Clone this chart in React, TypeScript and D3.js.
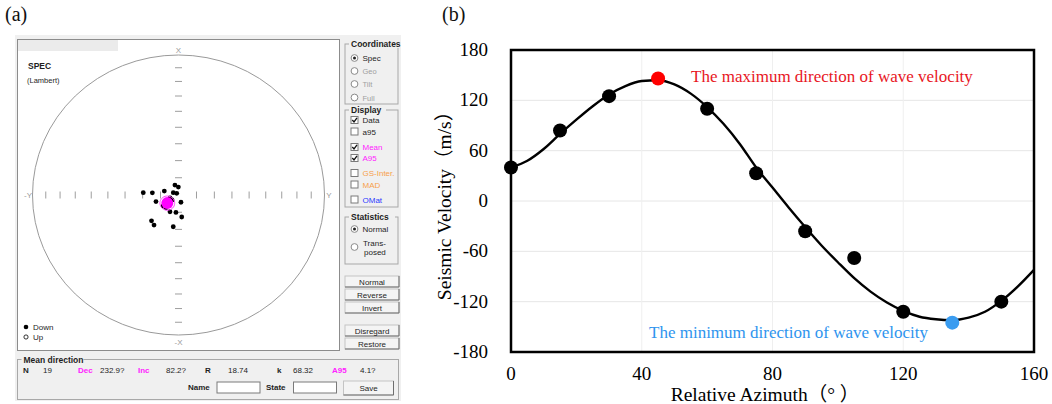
import React from 'react';
import * as d3 from 'd3';

// ---------- (a) stereonet: site directions (declination / inclination, deg) ----------
const siteDec = [274, 275, 286, 253, 341, 359, 295, 315, 162, 206, 188, 172, 225, 218, 189, 233, 231, 250, 223];
const siteInc = [70.3, 75.4, 81.8, 76.9, 83.9, 85.4, 86.8, 88.6, 85.6, 79.2, 79.8, 77.1, 68.7, 67.8, 71.3, 79.3, 85.4, 85.0, 79.8];
const meanDec = 232.9;
const meanInc = 82.2;
const meanA95 = 4.1;
const netTickInc = [10, 20, 30, 40, 50, 60, 70, 80];

// ---------- (b) velocity vs azimuth ----------
const azimuthTicks = [0, 40, 80, 120, 160];
const velocityTicks = [-180, -120, -60, 0, 60, 120, 180];
const measAzimuth = [0, 15, 30, 60, 75, 90, 105, 120, 150];
const measVelocity = [40, 84, 125, 110, 33, -36, -68, -132, -120];
const maxAzimuth = 45;
const maxVelocity = 146;
const minAzimuth = 135;
const minVelocity = -145;
const fitAzimuth = [0, 5, 10, 15, 20, 25, 30, 35, 40, 45, 50, 55, 60, 65, 70, 75, 80, 85, 90, 95, 100, 105, 110, 115, 120, 125, 130, 135, 140, 145, 150, 155, 160];
const fitVelocity = [40, 48, 62, 80, 97, 113, 127, 137, 143, 144, 139, 128, 112, 92, 68, 40, 16, -8, -31, -53, -73, -92, -108, -121, -131, -138, -141, -142, -139, -132, -119, -102, -82];

const SANS = 'Liberation Sans, Arial, sans-serif';
const SERIF = 'Liberation Serif, Times New Roman, Noto Sans CJK SC, serif';
const UI_BG = '#f0f0f0';
const TXT = '#1e1e1e';

const rad = Math.PI / 180;
// Lambert equal-area radius (0..1) for an inclination
const lambertR = (inc: number) => Math.SQRT2 * Math.sin(((90 - inc) / 2) * rad);

const GroupBox = ({ x, y, w, h, title, tw }: any) => (
  <g>
    <rect x={x} y={y} width={w} height={h} fill="none" stroke="#a8a8a8" />
    <rect x={x + 4} y={y - 5} width={tw} height={9} fill={UI_BG} />
    <text x={x + 6} y={y + 3} fontFamily={SANS} fontSize={8.5} fontWeight="bold" fill={TXT}>{title}</text>
  </g>
);

const Radio = ({ x, y, on }: any) => (
  <g>
    <circle cx={x} cy={y} r={3.4} fill="#fff" stroke="#8a8a8a" />
    {on && <circle cx={x} cy={y} r={1.5} fill="#222" />}
  </g>
);

const Check = ({ x, y, on }: any) => (
  <g>
    <rect x={x} y={y - 3.5} width={7} height={7} fill="#fff" stroke="#7a7a7a" />
    {on && <path d={`M${x + 1.3},${y} L${x + 3},${y + 2} L${x + 6},${y - 2.2}`} fill="none" stroke="#111" strokeWidth={1.3} />}
  </g>
);

const Button = ({ x, y, w, h, label }: any) => (
  <g>
    <rect x={x} y={y} width={w} height={h} fill="#f4f4f4" stroke="#c4c4c4" />
    <path d={`M${x},${y + h} H${x + w} V${y}`} fill="none" stroke="#6e6e6e" />
    <text x={x + w / 2} y={y + h / 2 + 3} textAnchor="middle" fontFamily={SANS} fontSize={8} fill={TXT}>{label}</text>
  </g>
);

const Stereonet = () => {
  const cx = 178.5, cy = 195, rx = 146, ry = 140;
  const sx = d3.scaleLinear().domain([-1, 1]).range([cx - rx, cx + rx]);
  const sy = d3.scaleLinear().domain([-1, 1]).range([cy + ry, cy - ry]);
  const proj = (dec: number, inc: number) => {
    const r = lambertR(inc);
    return [sx(r * Math.sin(dec * rad)), sy(r * Math.cos(dec * rad))];
  };
  // A95 small circle around the mean
  const m = [Math.cos(meanInc * rad) * Math.cos(meanDec * rad), Math.cos(meanInc * rad) * Math.sin(meanDec * rad), Math.sin(meanInc * rad)];
  const u = [-Math.sin(meanDec * rad), Math.cos(meanDec * rad), 0];
  const v = [m[1] * u[2] - m[2] * u[1], m[2] * u[0] - m[0] * u[2], m[0] * u[1] - m[1] * u[0]];
  const a = meanA95 * rad;
  const ring = d3.range(0, 361, 10).map((t) => {
    const p = [0, 1, 2].map((k) => Math.cos(a) * m[k] + Math.sin(a) * (Math.cos(t * rad) * u[k] + Math.sin(t * rad) * v[k]));
    return proj(Math.atan2(p[1], p[0]) / rad, Math.asin(p[2]) / rad) as [number, number];
  });
  const [mx, my] = proj(meanDec, meanInc);

  return (
    <g>
      <rect x={15} y={35} width={386} height={366} fill={UI_BG} />
      <rect x={17.5} y={39.5} width={322} height={311} fill="#fff" stroke="#8c8c8c" />
      <rect x={18} y={40} width={100} height={11} fill="#ebebeb" />
      <text x={28} y={69} fontFamily={SANS} fontSize={8.5} fontWeight="bold" fill={TXT}>SPEC</text>
      <text x={27} y={83} fontFamily={SANS} fontSize={7.5} fill={TXT}>(Lambert)</text>

      <ellipse cx={cx} cy={cy} rx={rx} ry={ry} fill="none" stroke="#9a9a9a" strokeWidth={1} />
      {netTickInc.map((inc) => {
        const r = lambertR(inc);
        return (
          <g key={inc} stroke="#9e9e9e" strokeWidth={1}>
            <line x1={cx - 3.5} x2={cx + 3.5} y1={sy(r)} y2={sy(r)} />
            <line x1={cx - 3.5} x2={cx + 3.5} y1={sy(-r)} y2={sy(-r)} />
            <line x1={sx(r)} x2={sx(r)} y1={cy - 3.5} y2={cy + 3.5} />
            <line x1={sx(-r)} x2={sx(-r)} y1={cy - 3.5} y2={cy + 3.5} />
          </g>
        );
      })}
      <g fontFamily={SANS} fontSize={8} fill="#9a9a9a" textAnchor="middle">
        <text x={cx} y={53}>X</text>
        <text x={cx} y={345}>-X</text>
        <text x={28} y={198}>-Y</text>
        <text x={329} y={198}>Y</text>
      </g>

      {siteDec.map((d, i) => {
        const [x, y] = proj(d, siteInc[i]);
        return <circle key={i} cx={x} cy={y} r={2.4} fill="#000" />;
      })}
      <path d={d3.line()(ring) || ''} fill="none" stroke="#ff40ff" strokeWidth={1} />
      <circle cx={mx} cy={my} r={6} fill="#ff00ff" />

      <circle cx={26} cy={327} r={2.3} fill="#000" />
      <text x={33} y={330} fontFamily={SANS} fontSize={8} fill={TXT}>Down</text>
      <circle cx={26} cy={337} r={2.1} fill="#fff" stroke="#000" strokeWidth={0.8} />
      <text x={33} y={340} fontFamily={SANS} fontSize={8} fill={TXT}>Up</text>

      {/* right-hand controls */}
      <GroupBox x={345} y={44} w={53} h={60} title="Coordinates" tw={50} />
      {['Spec', 'Geo', 'Tilt', 'Full'].map((s, i) => (
        <g key={s}>
          <Radio x={354.5} y={[58, 71, 84, 97.5][i]} on={i === 0} />
          <text x={362.5} y={[58, 71, 84, 97.5][i] + 3} fontFamily={SANS} fontSize={i === 0 ? 8 : 7.5} fill={i === 0 ? TXT : '#a0a0a0'}>{s}</text>
        </g>
      ))}
      <GroupBox x={345} y={110} w={53} h={97} title="Display" tw={37} />
      {[
        ['Data', 120, true, TXT],
        ['a95', 131.5, false, TXT],
        ['Mean', 147, true, '#ff22ff'],
        ['A95', 158, true, '#ff22ff'],
        ['GS-Inter.', 173, false, '#f7a04a'],
        ['MAD', 184.5, false, '#f7a04a'],
        ['OMat', 199.5, false, '#2b3bff'],
      ].map(([s, y, on, c]: any) => (
        <g key={s}>
          <Check x={351} y={y} on={on} />
          <text x={362.5} y={y + 3} fontFamily={SANS} fontSize={8} fill={c}>{s}</text>
        </g>
      ))}
      <GroupBox x={345} y={217} w={53} h={47} title="Statistics" tw={46} />
      <Radio x={354.5} y={229} on />
      <text x={362.5} y={232} fontFamily={SANS} fontSize={8} fill={TXT}>Normal</text>
      <Radio x={354.5} y={247} on={false} />
      <text x={363} y={246} fontFamily={SANS} fontSize={8} fill={TXT}>Trans-</text>
      <text x={364} y={255} fontFamily={SANS} fontSize={8} fill={TXT}>posed</text>

      <Button x={345} y={276} w={54} h={11} label="Normal" />
      <Button x={345} y={289} w={54} h={11} label="Reverse" />
      <Button x={345} y={302} w={54} h={11} label="Invert" />
      <Button x={345} y={325} w={54} h={11} label="Disregard" />
      <Button x={345} y={338} w={54} h={11} label="Restore" />

      {/* mean direction */}
      <GroupBox x={17.5} y={359.5} w={381} h={40} title="Mean direction" tw={62} />
      <g fontFamily={SANS} fontSize={8} fill={TXT}>
        <text x={23} y={373} fontWeight="bold">N</text>
        <text x={43} y={373}>19</text>
        <text x={78} y={373} fontWeight="bold" fill="#ff22ff">Dec</text>
        <text x={100} y={373}>232.9?</text>
        <text x={138} y={373} fontWeight="bold" fill="#ff22ff">Inc</text>
        <text x={166} y={373}>82.2?</text>
        <text x={205} y={373} fontWeight="bold">R</text>
        <text x={228} y={373}>18.74</text>
        <text x={277} y={373} fontWeight="bold">k</text>
        <text x={293} y={373}>68.32</text>
        <text x={332} y={373} fontWeight="bold" fill="#ff22ff">A95</text>
        <text x={360} y={373}>4.1?</text>
        <text x={188} y={390} fontWeight="bold">Name</text>
        <text x={266} y={390} fontWeight="bold">State</text>
      </g>
      <rect x={217} y={382} width={43} height={11} fill="#fff" stroke="#7a7a7a" />
      <rect x={293.5} y={382} width={43} height={11} fill="#fff" stroke="#7a7a7a" />
      <Button x={343.5} y={381} w={50} h={14} label="Save" />

      <text x={5} y={21} fontFamily={SERIF} fontSize={20} fill="#111">(a)</text>
    </g>
  );
};

const VelocityChart = () => {
  const x = d3.scaleLinear().domain([0, 160]).range([511, 1034]);
  const y = d3.scaleLinear().domain([-180, 180]).range([352, 50]);
  const fit = d3.line<number>()
    .x((d) => x(d))
    .y((_, i) => y(fitVelocity[i]))
    .curve(d3.curveMonotoneX);

  return (
    <g>
      <text x={442} y={21} fontFamily={SERIF} fontSize={20} fill="#111">(b)</text>
      {velocityTicks.slice(1, -1).map((t) => (
        <line key={t} x1={x(0)} x2={x(160)} y1={y(t)} y2={y(t)} stroke="#e6e6e6" />
      ))}
      {azimuthTicks.slice(1, -1).map((t) => (
        <line key={t} x1={x(t)} x2={x(t)} y1={y(-180)} y2={y(180)} stroke="#efefef" />
      ))}
      <path d={fit(fitAzimuth) || ''} fill="none" stroke="#000" strokeWidth={2.4} />
      {measAzimuth.map((a, i) => (
        <circle key={a} cx={x(a)} cy={y(measVelocity[i])} r={7} fill="#000" />
      ))}
      <circle cx={x(maxAzimuth)} cy={y(maxVelocity)} r={7} fill="#ff0000" />
      <circle cx={x(minAzimuth)} cy={y(minVelocity)} r={7} fill="#3a9cf0" />
      <rect x={x(0)} y={y(180)} width={x(160) - x(0)} height={y(-180) - y(180)} fill="none" stroke="#000" strokeWidth={2.5} />

      <g fontFamily={SERIF} fontSize={19} fill="#000">
        {velocityTicks.map((t) => (
          <text key={t} x={488} y={y(t) + 6} textAnchor="end">{t}</text>
        ))}
        {azimuthTicks.map((t) => (
          <text key={t} x={x(t)} y={380} textAnchor="middle">{t}</text>
        ))}
        <text x={765} y={401} textAnchor="middle" fontSize={19.5}>Relative Azimuth（°  ）</text>
        <text transform={`translate(451,201) rotate(-90)`} textAnchor="middle" fontSize={19.5}>Seismic Velocity（m/s）</text>
      </g>
      <text x={691} y={82} fontFamily={SERIF} fontSize={17} fill="#e8161e">The maximum direction of wave velocity</text>
      <text x={649} y={338} fontFamily={SERIF} fontSize={17} fill="#2e94ee">The minimum direction of wave velocity</text>
    </g>
  );
};

export default function App() {
  return (
    <div style={{ position: 'absolute', left: 0, top: 0 }}>
      <svg width={1052} height={404} style={{ display: 'block', background: '#fff' }}>
        <Stereonet />
        <VelocityChart />
      </svg>
    </div>
  );
}
